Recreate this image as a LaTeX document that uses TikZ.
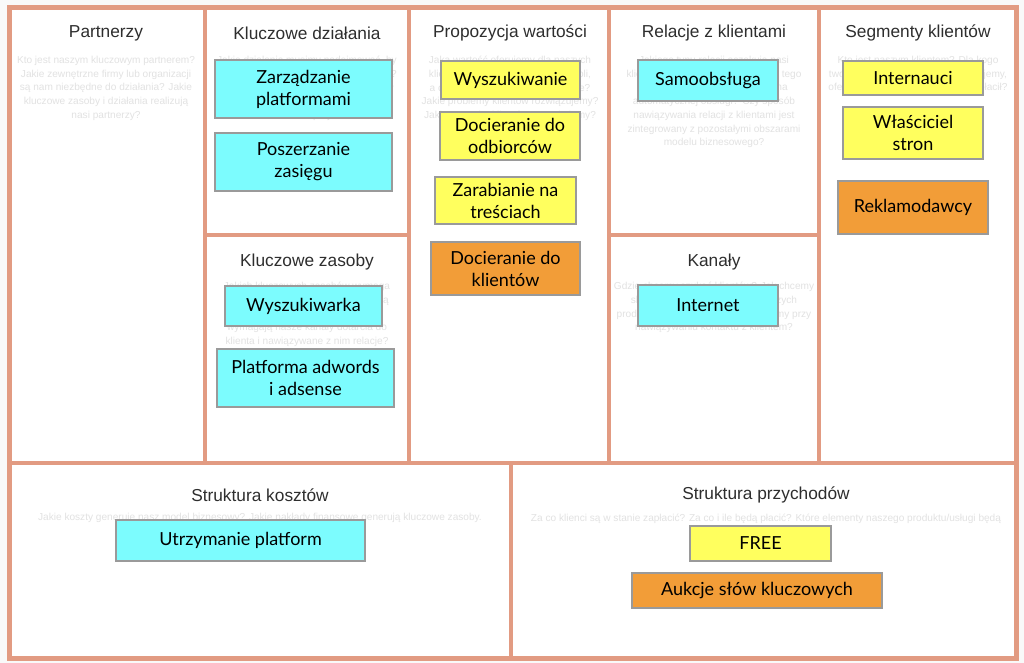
\documentclass[tikz,border=0pt]{standalone}
\usepackage{fontspec}
\setmainfont{Liberation Sans}
\newfontfamily\cardfont{Lato}
\definecolor{framecol}{HTML}{E29B82}
\definecolor{cyanfill}{HTML}{7CFCFE}
\definecolor{yellowfill}{HTML}{FFFF5E}
\definecolor{orangefill}{HTML}{F29D38}
\definecolor{cardborder}{HTML}{9A9A9A}
\definecolor{faintcol}{HTML}{E2E2E2}
\definecolor{titlecol}{HTML}{2E2E2E}
\tikzset{
  card/.style={draw=cardborder, line width=1.2pt, inner sep=0pt, align=center,
    font=\cardfont\fontsize{18}{22}\selectfont, text=black},
  cyancard/.style={card, fill=cyanfill},
  yellowcard/.style={card, fill=yellowfill},
  orangecard/.style={card, fill=orangefill},
  celltitle/.style={inner sep=0pt, text=titlecol, font=\fontsize{17.3}{20}\selectfont},
  hint/.style={inner sep=0pt, anchor=north, align=center, text=faintcol,
    font=\fontsize{10.1}{13.7}\selectfont},
  divider/.style={draw=framecol, line width=3.5pt},
}
\begin{document}
\begin{tikzpicture}[x=1pt,y=-1pt]
\useasboundingbox (0,0) rectangle (1024,663);
\fill[gray!5] (0,0) rectangle (1024,663);
\fill[white] (9,7) rectangle (1017,659);

% hints (drawn first, so cards cover them)
\node[hint] (hpart) at (106,56) {Kto jest naszym kluczowym partnerem?\\Jakie zewnętrzne firmy lub organizacji\\są nam niezbędne do działania? Jakie\\kluczowe zasoby i działania realizują\\nasi partnerzy?};
\node[hint] (hdzial) at (307,56) {Jakie działania musimy podejmować, by\\zrealizować naszą propozycję wartości?\\Jakich działań wymagają nasze kanały\\dotarcia do klienta, relacje z klientami\\oraz strumienie przychodów?};
\node[hint] (hprop) at (510,56) {Jaką wartość oferujemy dla naszych\\klientów? Który problem klienta boli,\\a co jest odpowiedzią na potrzebie?\\Jakie problemy klientów rozwiązujemy?\\Jakie potrzeby klientów zaspokajamy?};
\node[hint] (hrel) at (714,56) {Jakiego typu relacji oczekują nasi\\klienci? Jaki jest koszt utrzymania tego\\rodzaju relacji? Czy jest to forma\\automatycznej obsługi? Czy sposób\\nawiązywania relacji z klientami jest\\zintegrowany z pozostałymi obszarami\\modelu biznesowego?};
\node[hint] (hseg) at (918,56) {Kto jest naszym klientem? Dla kogo\\tworzymy wartość? Komu sprzedajemy,\\oferując wartość, za którą będzie płacił?};
\node[hint] (hzas) at (307,282) {Jakich kluczowych zasobów wymaga\\propozycja wartości, którą dostarczą\\pracownicy? Jakich zasobów\\wymagają nasze kanały dotarcia do\\klienta i nawiązywane z nim relacje?};
\node[hint] (hkan) at (714,282) {Gdzie chcemy szukać klientów? Jak chcemy\\skąd mogą dowiedzieć się o naszych\\produktach? Jakich kanałów używamy przy\\nawiązywaniu kontaktu z klientem?};
\node[hint] (hkoszt) at (260,513) {Jakie koszty generuje nasz model biznesowy? Jakie nakłady finansowe generują kluczowe zasoby.};
\node[hint] (hprzych) at (766,514) {Za co klienci są w stanie zapłacić? Za co i ile będą płacić? Które elementy naszego produktu/usługi będą};

% grid
\draw[divider] (205,8) -- (205,463);
\draw[divider] (409,8) -- (409,463);
\draw[divider] (609,8) -- (609,463);
\draw[divider] (819,8) -- (819,463);
\draw[divider] (205,235) -- (409,235);
\draw[divider] (609,235) -- (819,235);
\draw[divider] (8,463) -- (1017,463);
\draw[divider] (511,463) -- (511,657);
\draw[framecol, line width=5pt] (9.5,7.5) rectangle (1016.5,658.5);

% titles
\node[celltitle] (tpart) at (106,33) {Partnerzy};
\node[celltitle] (tdzial) at (307,33) {Kluczowe działania};
\node[celltitle] (tprop) at (510,33) {Propozycja wartości};
\node[celltitle] (trel) at (714,33) {Relacje z klientami};
\node[celltitle] (tseg) at (918,33) {Segmenty klientów};
\node[celltitle] (tzas) at (307,262) {Kluczowe zasoby};
\node[celltitle] (tkan) at (714,262) {Kanały};
\node[celltitle] (tkoszt) at (260,495) {Struktura kosztów};
\node[celltitle] (tprzych) at (766,495) {Struktura przychodów};

% cards
\node[cyancard, minimum width=177pt, minimum height=58pt] (zarz) at (303.5,89) {Zarządzanie\\platformami};
\node[cyancard, minimum width=177pt, minimum height=58pt] (posz) at (303.5,162) {Poszerzanie\\zasięgu};
\node[cyancard, minimum width=157pt, minimum height=40pt] (wyszk) at (303.5,306) {Wyszukiwarka};
\node[cyancard, minimum width=177pt, minimum height=58pt] (platf) at (305.5,378) {Platforma adwords\\i adsense};
\node[yellowcard, minimum width=139pt, minimum height=38pt] (wyszn) at (510.5,80) {Wyszukiwanie};
\node[yellowcard, minimum width=140pt, minimum height=48pt] (docodb) at (510,136) {Docieranie do\\odbiorców};
\node[yellowcard, minimum width=141pt, minimum height=47pt] (zarab) at (505.5,200.5) {Zarabianie na\\treściach};
\node[orangecard, minimum width=149pt, minimum height=53pt] (dockl) at (505.5,268.5) {Docieranie do\\klientów};
\node[cyancard, minimum width=140pt, minimum height=41pt] (samo) at (708,80.5) {Samoobsługa};
\node[cyancard, minimum width=140pt, minimum height=41pt] (inet) at (708,305.5) {Internet};
\node[yellowcard, minimum width=140pt, minimum height=34pt] (inter) at (913,78) {Internauci};
\node[yellowcard, minimum width=140pt, minimum height=52pt] (wlasc) at (913,133) {Właściciel\\stron};
\node[orangecard, minimum width=150pt, minimum height=53pt] (reklam) at (913,207.5) {Reklamodawcy};
\node[cyancard, minimum width=249pt, minimum height=41pt] (utrz) at (240.5,540.5) {Utrzymanie platform};
\node[yellowcard, minimum width=141pt, minimum height=35pt] (free) at (760.5,543.5) {FREE};
\node[orangecard, minimum width=250pt, minimum height=35pt] (aukcje) at (757,590.5) {Aukcje słów kluczowych};
\end{tikzpicture}
\end{document}
